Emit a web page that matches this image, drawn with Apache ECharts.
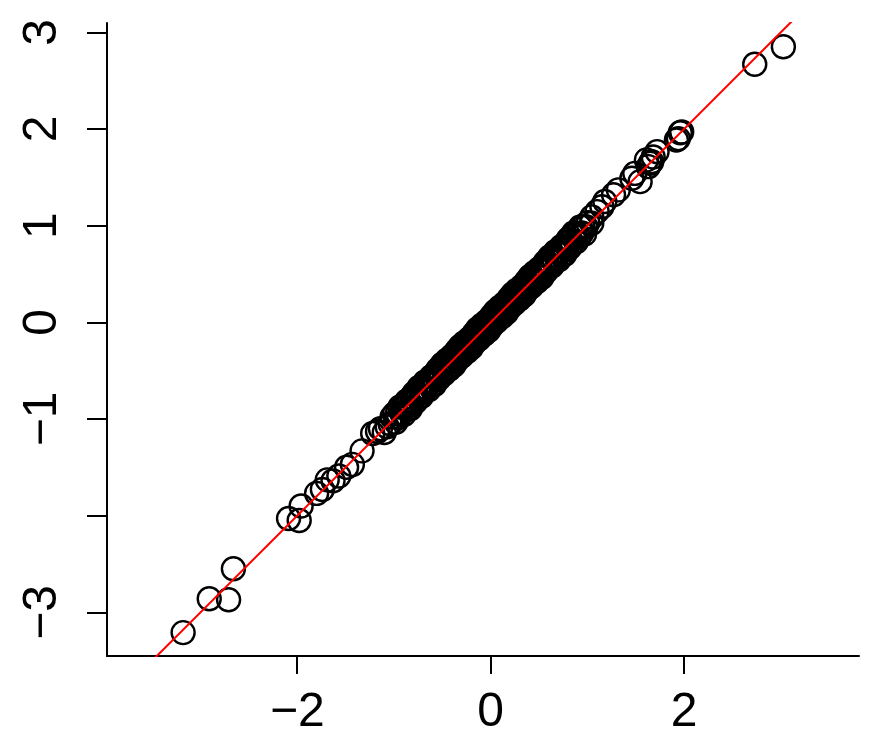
<!DOCTYPE html>
<html>
<head>
<meta charset="utf-8">
<title>QQ plot</title>
<script src="https://cdn.jsdelivr.net/npm/echarts@6/dist/echarts.min.js"></script>
<style>
  html, body { margin: 0; padding: 0; background: #fff; }
  #chart { width: 883px; height: 752px; }
</style>
</head>
<body>
<div id="chart"></div>
<script>
// 散点数据：x 为横轴分位数，y 为纵轴分位数
const xValues = [
  -3.18, -2.91, -2.71, -2.66, -2.09, -1.98, -1.96, -1.80, -1.74, -1.69, -1.63, -1.57,
  -1.49, -1.43, -1.33, -1.22, -1.17, -1.14, -1.10, -1.07, -1.04, -1.02,
  -0.993, -0.981, -0.964, -0.952, -0.938, -0.921, -0.908, -0.897, -0.884, -0.869,
  -0.858, -0.846, -0.831, -0.817, -0.806, -0.793, -0.779, -0.765, -0.752, -0.741,
  -0.727, -0.714, -0.702, -0.690, -0.677, -0.664, -0.653, -0.641, -0.628, -0.617,
  -0.604, -0.592, -0.581, -0.569, -0.557, -0.546, -0.534, -0.522, -0.511, -0.500,
  -0.491, -0.481, -0.472, -0.462, -0.453, -0.443, -0.434, -0.425, -0.416, -0.406,
  -0.397, -0.388, -0.379, -0.370, -0.361, -0.352, -0.343, -0.334, -0.325, -0.316,
  -0.307, -0.298, -0.289, -0.280, -0.271, -0.262, -0.253, -0.244, -0.235, -0.226,
  -0.217, -0.208, -0.199, -0.190, -0.181, -0.172, -0.163, -0.154, -0.145, -0.136,
  -0.127, -0.118, -0.109, -0.100, -0.091, -0.082, -0.073, -0.064, -0.055, -0.046,
  -0.037, -0.028, -0.019, -0.010,
  0.002, 0.011, 0.020, 0.029, 0.038, 0.047, 0.056, 0.065, 0.074, 0.083,
  0.092, 0.101, 0.110, 0.119, 0.128, 0.137, 0.146, 0.155, 0.164, 0.173,
  0.182, 0.191, 0.200, 0.209, 0.218, 0.227, 0.236, 0.245, 0.254, 0.263,
  0.272, 0.281, 0.290, 0.299, 0.308, 0.317, 0.326, 0.335, 0.344, 0.353,
  0.362, 0.371, 0.380, 0.389, 0.398, 0.407, 0.416, 0.425, 0.434, 0.443,
  0.452, 0.461, 0.470, 0.479, 0.488, 0.497,
  0.508, 0.519, 0.530, 0.541, 0.552, 0.564, 0.575, 0.587, 0.598, 0.610,
  0.621, 0.633, 0.645, 0.657, 0.669, 0.681, 0.693, 0.705, 0.717, 0.729,
  0.741, 0.754, 0.766, 0.779, 0.791, 0.804, 0.817, 0.830, 0.843, 0.857,
  0.870, 0.884, 0.898, 0.912, 0.926, 0.941, 0.955, 0.970, 0.985,
  1.003, 1.045, 1.045, 1.10, 1.15, 1.18, 1.27, 1.32, 1.46, 1.49, 1.545,
  1.61, 1.63, 1.65, 1.665, 1.68, 1.72, 1.92, 1.94, 1.96, 1.975, 2.73, 3.026
];
const yValues = [
  -3.21, -2.86, -2.87, -2.55, -2.03, -2.05, -1.90, -1.77, -1.73, -1.63, -1.64, -1.59,
  -1.50, -1.47, -1.33, -1.15, -1.13, -1.10, -1.14, -1.08, -1.05, -0.98,
  -0.945, -1.033, -0.943, -0.987, -0.877, -0.939, -0.871, -0.955, -0.880, -0.817,
  -0.899, -0.817, -0.894, -0.773, -0.815, -0.736, -0.826, -0.752, -0.781, -0.675,
  -0.679, -0.766, -0.681, -0.725, -0.616, -0.682, -0.616, -0.699, -0.624, -0.565,
  -0.645, -0.563, -0.644, -0.525, -0.566, -0.489, -0.581, -0.509, -0.540, -0.434,
  -0.443, -0.533, -0.451, -0.497, -0.392, -0.461, -0.397, -0.483, -0.412, -0.354,
  -0.438, -0.359, -0.442, -0.326, -0.370, -0.295, -0.390, -0.321, -0.354, -0.250,
  -0.259, -0.350, -0.268, -0.315, -0.210, -0.280, -0.216, -0.302, -0.231, -0.174,
  -0.258, -0.179, -0.262, -0.146, -0.190, -0.115, -0.210, -0.141, -0.174, -0.070,
  -0.079, -0.170, -0.088, -0.135, -0.030, -0.100, -0.036, -0.122, -0.051, 0.006,
  -0.078, 0.001, -0.082, 0.034,
  -0.007, 0.068, -0.027, 0.042, 0.009, 0.113, 0.104, 0.013, 0.095, 0.048,
  0.153, 0.083, 0.147, 0.061, 0.132, 0.189, 0.105, 0.184, 0.101, 0.217,
  0.173, 0.248, 0.153, 0.222, 0.189, 0.293, 0.284, 0.193, 0.275, 0.228,
  0.333, 0.263, 0.327, 0.241, 0.312, 0.369, 0.285, 0.364, 0.281, 0.397,
  0.353, 0.428, 0.333, 0.402, 0.369, 0.473, 0.464, 0.373, 0.455, 0.408,
  0.513, 0.443, 0.507, 0.421, 0.492, 0.549,
  0.467, 0.548, 0.467, 0.585, 0.543, 0.621, 0.528, 0.600, 0.569, 0.676,
  0.669, 0.581, 0.666, 0.622, 0.730, 0.663, 0.730, 0.647, 0.721, 0.781,
  0.700, 0.783, 0.703, 0.823, 0.782, 0.861, 0.770, 0.843, 0.814, 0.923,
  0.918, 0.832, 0.919, 0.877, 0.987, 0.923, 0.992, 0.912, 0.989,
  1.031, 1.025, 1.09, 1.145, 1.195, 1.25, 1.32, 1.37, 1.49, 1.54, 1.455,
  1.68, 1.61, 1.645, 1.66, 1.71, 1.765, 1.885, 1.90, 1.96, 1.97, 2.67, 2.85
];

// 刻度
const xTicks = [-2, 0, 2];
const yTicks = [-3, -2, -1, 0, 1, 2, 3];
const yTickLabels = [-3, -1, 0, 1, 2, 3];

// 参考线 y = a + b * x
const lineIntercept = 0;
const lineSlope = 1;

const xMin = -3.967, xMax = 3.808;
const yMin = -3.452, yMax = 3.096;

const points = xValues.map((x, i) => [x, yValues[i]]);
const refLine = [
  [xMin, lineIntercept + lineSlope * xMin],
  [xMax, lineIntercept + lineSlope * xMax],
];

const minus = (v) => String(v).replace('-', '\u2212');
const font = "'Liberation Sans', Arial, Helvetica, sans-serif";

const chart = echarts.init(document.getElementById('chart'), null, { renderer: 'canvas' });
chart.setOption({
  animation: false,
  backgroundColor: '#fff',
  grid: { left: 107, right: 24, top: 23, bottom: 96, containLabel: false },
  xAxis: {
    type: 'value',
    min: xMin,
    max: xMax,
    splitLine: { show: false },
    axisLine: { show: true, onZero: false, lineStyle: { color: '#000', width: 2 } },
    axisTick: { show: true, customValues: xTicks, length: 18, lineStyle: { color: '#000', width: 2 } },
    axisLabel: {
      customValues: xTicks,
      formatter: minus,
      fontSize: 48,
      fontFamily: font,
      color: '#000',
      margin: 33,
    },
  },
  yAxis: {
    type: 'value',
    min: yMin,
    max: yMax,
    splitLine: { show: false },
    axisLine: { show: true, onZero: false, lineStyle: { color: '#000', width: 2 } },
    axisTick: { show: true, customValues: yTicks, length: 20, lineStyle: { color: '#000', width: 2 } },
    axisLabel: {
      customValues: yTickLabels,
      formatter: minus,
      rotate: 90,
      fontSize: 48,
      fontFamily: font,
      color: '#000',
      margin: 40,
    },
  },
  series: [
    {
      type: 'scatter',
      data: points,
      symbol: 'circle',
      symbolSize: 23,
      itemStyle: { color: 'rgba(0,0,0,0)', borderColor: '#000', borderWidth: 2.4, opacity: 1 },
      emphasis: { disabled: true },
      z: 2,
    },
    {
      type: 'line',
      data: refLine,
      showSymbol: false,
      clip: true,
      lineStyle: { color: '#ff0000', width: 2 },
      emphasis: { disabled: true },
      z: 3,
    },
  ],
});
</script>
</body>
</html>
